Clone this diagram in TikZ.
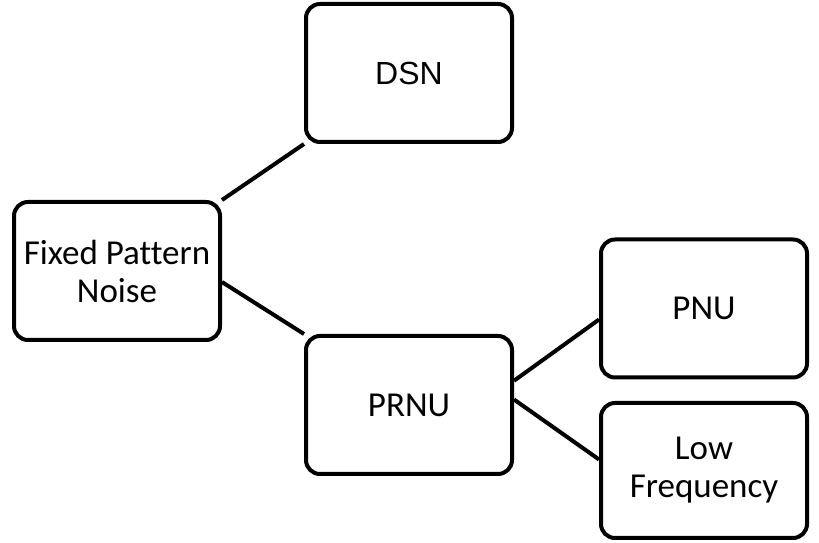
\documentclass[tikz,border=0pt]{standalone}
\usepackage{fontspec}
\setmainfont{Carlito}[Ligatures=NoCommon]
\newfontfamily\arialfont{Liberation Sans}
\begin{document}
\begin{tikzpicture}[x=1pt, y=1pt,
  box/.style={draw, line width=4pt, rounded corners=14pt, minimum width=206pt,
    minimum height=138pt, align=center, font=\fontsize{35}{38}\selectfont},
  link/.style={line width=4pt}]
\useasboundingbox (0,0) rectangle (819,543);
\node[box] (fpn) at (117,272) {Fixed Pattern\\Noise};
\node[box, font=\arialfont\fontsize{32}{38}\selectfont] (dsn) at (409,470) {DSN};
\node[box] (prnu) at (409,138) {PRNU};
\node[box] (pnu) at (704,234.5) {PNU};
\node[box, minimum height=135pt] (lowf) at (704,72.5) {Low\\Frequency};
% branches
\draw[link] (fpn.north east) -- (dsn.south west);
\draw[link] (fpn.-6) -- (prnu.north west);
\draw[link] (prnu.13) -- (pnu.186);
\draw[link] (prnu.3) -- (lowf.174);
\end{tikzpicture}
\end{document}
